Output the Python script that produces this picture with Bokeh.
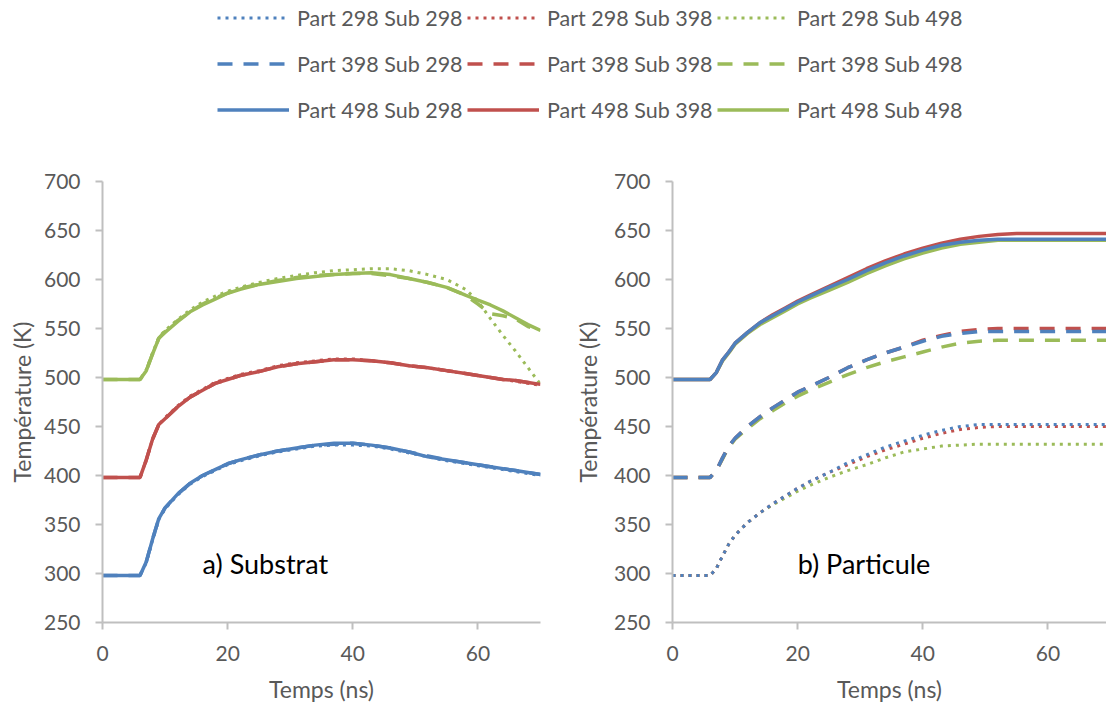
from bokeh.plotting import figure
from bokeh.models import Range1d, FixedTicker, Legend, LegendItem, Label
from bokeh.layouts import column, row
from bokeh.embed import file_html
from bokeh.resources import INLINE

# ---------------- data ----------------
t_ns = [0, 6, 7, 8, 9, 10, 12, 14, 16, 18, 20, 22, 25, 28, 31, 34, 37, 40, 43, 46,
        49, 52, 55, 58, 60, 62, 64, 66, 68, 70]

# a) Substrat temperatures (K)
sub_p298_s298 = [298, 298, 311, 334, 355, 366, 380, 391, 399, 405, 411, 415, 420, 424, 427, 430, 431, 431, 430, 427, 423, 419, 415, 412, 410, 408, 406, 404, 402, 400]
sub_p298_s398 = [398, 398, 416, 437, 452, 459, 471, 481, 488, 495, 499, 503, 507, 512, 515, 517, 519, 519, 517, 515, 512, 510, 507, 504, 502, 500, 498, 496, 494, 492]
sub_p298_s498 = [498, 498, 508, 525, 541, 548, 559, 569, 577, 583, 588, 592, 597, 601, 604, 607, 609, 610, 611, 611, 609, 605, 600, 590, 578, 560, 543, 527, 510, 493]
sub_p398_s298 = [298, 298, 312, 335, 356, 367, 381, 392, 400, 406, 412, 416, 421, 425, 428, 431, 432, 433, 431, 428, 424, 420, 416, 413, 411, 409, 407, 405, 403, 401]
sub_p398_s398 = [398, 398, 416, 437, 452, 458, 470, 480, 487, 494, 498, 502, 506, 511, 514, 516, 518, 518, 517, 515, 512, 510, 507, 504, 502, 500, 498, 497, 495, 493]
sub_p398_s498 = [498, 498, 507, 524, 540, 547, 558, 567, 575, 581, 586, 591, 595, 599, 602, 604, 605, 606, 606, 604, 601, 597, 592, 584, 575, 565, 563, 560, 552, 548]
sub_p498_s298 = [298, 298, 312, 335, 356, 367, 381, 392, 400, 406, 412, 416, 421, 425, 428, 431, 433, 433, 431, 428, 424, 419, 416, 413, 411, 409, 407, 405, 403, 401]
sub_p498_s398 = [398, 398, 416, 437, 452, 458, 470, 480, 487, 494, 498, 502, 506, 511, 514, 516, 518, 518, 517, 515, 512, 510, 507, 504, 502, 500, 498, 497, 495, 493]
sub_p498_s498 = [498, 498, 507, 524, 540, 546, 557, 567, 574, 580, 586, 590, 595, 598, 601, 603, 605, 606, 607, 605, 601, 597, 592, 584, 579, 574, 568, 561, 554, 548]

# b) Particule temperatures (K)
par_p298_s298 = [298, 298, 305, 318, 330, 339, 352, 362, 371, 379, 387, 394, 403, 413, 421, 429, 435, 441, 446, 450, 452, 452, 452, 452, 452, 452, 452, 452, 452, 452]
par_p298_s398 = [298, 298, 305, 318, 330, 339, 352, 362, 371, 379, 387, 394, 403, 411, 419, 426, 432, 438, 443, 447, 449, 450, 450, 450, 450, 450, 450, 450, 450, 450]
par_p298_s498 = [298, 298, 305, 318, 330, 339, 352, 362, 370, 377, 384, 390, 398, 405, 411, 418, 424, 427, 430, 431, 432, 432, 432, 432, 432, 432, 432, 432, 432, 432]
par_p398_s298 = [398, 398, 405, 418, 430, 438, 450, 460, 469, 477, 485, 491, 500, 510, 518, 525, 531, 537, 542, 545, 547, 547, 547, 547, 547, 547, 547, 547, 547, 547]
par_p398_s398 = [398, 398, 405, 418, 430, 438, 450, 460, 469, 477, 485, 491, 500, 510, 518, 525, 531, 538, 543, 547, 549, 550, 550, 550, 550, 550, 550, 550, 550, 550]
par_p398_s498 = [398, 398, 405, 417, 429, 437, 448, 458, 466, 474, 481, 487, 495, 503, 510, 516, 521, 526, 531, 535, 537, 538, 538, 538, 538, 538, 538, 538, 538, 538]
par_p498_s298 = [498, 498, 505, 518, 526, 535, 546, 556, 563, 570, 577, 583, 592, 600, 609, 617, 624, 630, 635, 638, 640, 641, 641, 641, 641, 641, 641, 641, 641, 641]
par_p498_s398 = [498, 498, 505, 518, 526, 535, 546, 556, 564, 571, 578, 584, 593, 602, 611, 619, 626, 632, 637, 641, 644, 646, 647, 647, 647, 647, 647, 647, 647, 647]
par_p498_s498 = [498, 498, 505, 517, 525, 534, 545, 554, 561, 568, 575, 581, 589, 597, 606, 614, 621, 627, 632, 636, 638, 640, 640, 640, 640, 640, 640, 640, 640, 640]

parts = [298, 398, 498]
subs = [298, 398, 498]
y_ticks = [250, 300, 350, 400, 450, 500, 550, 600, 650, 700]
x_ticks = [0, 20, 40, 60]

sub_series = {(298, 298): sub_p298_s298, (298, 398): sub_p298_s398, (298, 498): sub_p298_s498,
              (398, 298): sub_p398_s298, (398, 398): sub_p398_s398, (398, 498): sub_p398_s498,
              (498, 298): sub_p498_s298, (498, 398): sub_p498_s398, (498, 498): sub_p498_s498}
par_series = {(298, 298): par_p298_s298, (298, 398): par_p298_s398, (298, 498): par_p298_s498,
              (398, 298): par_p398_s298, (398, 398): par_p398_s398, (398, 498): par_p398_s498,
              (498, 298): par_p498_s298, (498, 398): par_p498_s398, (498, 498): par_p498_s498}

# ---------------- styles ----------------
SUB_COLORS = {298: "#4F81BD", 398: "#C0504D", 498: "#9BBB59"}
PART_STYLE = {298: dict(line_width=3, line_dash="3 5"),
              398: dict(line_width=3.5, line_dash="15 11"),
              498: dict(line_width=3.5, line_dash="solid")}
FONT = "Lato"
AXC = "#BFBFBF"
TXT = "#595959"
FRAME_W = 438


def make_panel(width, border_left, x_end, label_standoff):
    border_right = max(width - border_left - FRAME_W, 0)
    p = figure(width=width, height=548, toolbar_location=None, output_backend="svg",
               x_range=Range1d(0, x_end), y_range=Range1d(250, 700),
               min_border_left=border_left, min_border_right=border_right,
               min_border_top=23, min_border_bottom=84,
               x_axis_label="Temps (ns)", y_axis_label="Température (K)")
    p.xgrid.visible = False
    p.ygrid.visible = False
    p.outline_line_color = None
    p.background_fill_color = "white"
    p.border_fill_color = "white"
    p.xaxis.ticker = FixedTicker(ticks=x_ticks)
    p.yaxis.ticker = FixedTicker(ticks=y_ticks)
    for ax in p.axis:
        ax.axis_line_color = AXC
        ax.axis_line_width = 2
        ax.major_tick_line_color = AXC
        ax.major_tick_line_width = 2
        ax.major_tick_out = 7
        ax.major_tick_in = 0
        ax.minor_tick_line_color = None
        ax.major_label_text_font = FONT
        ax.major_label_text_font_size = "21px"
        ax.major_label_text_color = TXT
        ax.axis_label_text_font = FONT
        ax.axis_label_text_font_size = "23px"
        ax.axis_label_text_font_style = "normal"
        ax.axis_label_text_color = TXT
    p.xaxis.major_label_standoff = 16
    p.xaxis.axis_label_standoff = 11
    p.yaxis.major_label_standoff = 15
    p.yaxis.axis_label_standoff = label_standoff
    return p


p1 = make_panel(560, 102, 70, 5)
p2 = make_panel(546, 112, 70 * 434 / FRAME_W, 9)

for part in parts:
    for sub in subs:
        p1.line(t_ns, sub_series[(part, sub)], line_color=SUB_COLORS[sub], **PART_STYLE[part])
for part in parts:
    for sub in reversed(subs):
        p2.line(t_ns, par_series[(part, sub)], line_color=SUB_COLORS[sub], **PART_STYLE[part])

p1.add_layout(Label(x=16, y=310, text="a) Substrat", text_font=FONT, text_font_size="27px",
                    text_color="black", text_baseline="middle"))
p2.add_layout(Label(x=20, y=310, text="b) Particule", text_font=FONT, text_font_size="27px",
                    text_color="black", text_baseline="middle"))

# ---------------- legend strip ----------------
# sample renderers sit outside the visible range of this strip; only their legend glyphs show
lg = figure(width=1106, height=158, toolbar_location=None, output_backend="svg",
            x_axis_location=None, y_axis_location=None, min_border=0,
            x_range=Range1d(-2, -1), y_range=Range1d(-2, -1))
lg.grid.visible = False
lg.outline_line_color = None

for j, sub in enumerate(subs):
    items = []
    for part in parts:
        r = lg.line(t_ns, par_series[(part, sub)], line_color=SUB_COLORS[sub], **PART_STYLE[part])
        items.append(LegendItem(label=f"Part {part} Sub {sub}", renderers=[r]))
    leg = Legend(items=items, location=(217 + 250 * j, 35), orientation="vertical",
                 glyph_width=72, glyph_height=27, label_height=27, spacing=19,
                 label_standoff=8, padding=0, margin=0, border_line_color=None,
                 background_fill_alpha=0, label_text_font=FONT, label_text_font_size="21.5px",
                 label_text_color=TXT)
    lg.add_layout(leg)

layout = column(lg, row(p1, p2))
open("out.html", "w").write(file_html(layout, INLINE))
